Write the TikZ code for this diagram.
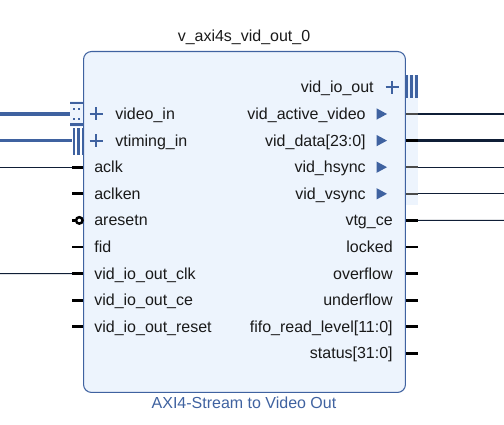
\documentclass[tikz,border=0pt]{standalone}
\usepackage{fontspec}
\setmainfont{Liberation Sans}
\usetikzlibrary{positioning}
\definecolor{ipblue}{HTML}{3F62A0}
\definecolor{ipfill}{HTML}{EDF4FD}
\definecolor{wirec}{HTML}{0F1E36}
\definecolor{txt}{HTML}{1A1A1A}
\begin{document}
\begin{tikzpicture}[x=0.02cm,y=-0.02cm,
  every node/.style={font=\fontsize{9.1}{11}\selectfont,inner sep=0pt,text=txt},
  pinl/.style={anchor=base west},
  pinr/.style={anchor=base east},
  stub/.style={line width=1.5pt,black},
  substub/.style={line width=1.1pt,black!70},
  wire/.style={line width=0.6pt,wirec},
  buswire/.style={line width=2pt,ipblue},
  plus/.style={line width=1.2pt,ipblue},
  bar/.style={fill=ipblue,draw=none}]
  \useasboundingbox (0,0) rectangle (504,425);
  % block
  \fill[ipfill] (406,75) rectangle (418,205);
  \node[draw=ipblue,fill=ipfill,line width=0.6pt,rounded corners=0.16cm,
        minimum width=6.44cm,minimum height=6.82cm,anchor=north west] (ip) at (83,51) {};
  \node[anchor=base] (ipname) at (244,42) {v\_axi4s\_vid\_out\_0};
  \node[anchor=base,text=ipblue] (iptype) at (244,409) {AXI4-Stream to Video Out};
  % bus interfaces, left
  \fill[ipfill] (70,101) rectangle (83,127);
  \coordinate (vin-w) at (0,114);
  \coordinate (vin-pin) at (70,114);
  \draw[buswire] (vin-w) -- (vin-pin);
  \fill[bar] (70,102) rectangle (83,104.5);
  \fill[bar] (70,123.5) rectangle (83,126);
  \foreach \sx in {73.3,77.8} \foreach \sy in {108,118} \fill[bar] (\sx,\sy) rectangle ++(1.8,2);
  \draw[plus] (89.5,114) -- (102.5,114) (96,107.5) -- (96,120.5);
  \node[pinl] (video_in) at (115,119.5) {video\_in};
  \coordinate (vtm-w) at (0,140.6);
  \coordinate (vtm-pin) at (72,140.6);
  \draw[buswire] (vtm-w) -- (vtm-pin);
  \foreach \sx in {72.8,77.3,81.6} \fill[bar] (\sx,128) rectangle ++(2.2,27);
  \draw[plus] (89.5,140.6) -- (102.5,140.6) (96,134.1) -- (96,147.1);
  \node[pinl] (vtiming_in) at (115,146.1) {vtiming\_in};
  % single pins, left
  \foreach \name/\lbl/\row in {aclk/aclk/2,aclken/aclken/3,fid/fid/5,
      ioclk/vid\_io\_out\_clk/6,ioce/vid\_io\_out\_ce/7,iorst/vid\_io\_out\_reset/8} {
    \coordinate (\name-pin) at (72,114+26.6*\row);
    \coordinate (\name-edge) at (83,114+26.6*\row);
    \draw[stub] (\name-pin) -- (\name-edge);
    \node[pinl] (\name) at (94,119.5+26.6*\row) {\lbl};
  }
  \coordinate (rst-pin) at (72,220.4);
  \node[circle,draw=black,fill=white,line width=1.4pt,minimum size=0.13cm] (rst-dot) at (79.3,220.4) {};
  \draw[stub] (rst-pin) -- (rst-dot);
  \node[pinl] (aresetn) at (94,225.9) {aresetn};
  \coordinate (aclk-w) at (0,167.2);
  \draw[wire] (aclk-w) -- (aclk-pin);
  \coordinate (ioclk-w) at (0,273.6);
  \draw[wire] (ioclk-w) -- (ioclk-pin);
  % vid_io_out interface, right
  \foreach \sx in {405.8,410.2,415} \fill[bar] (\sx,75) rectangle ++(2.6,23);
  \draw[plus] (385.5,87.4) -- (398.5,87.4) (392,80.9) -- (392,93.9);
  \node[pinr] (vid_io_out) at (374,92.9) {vid\_io\_out};
  \foreach \name/\lbl/\row in {active/vid\_active\_video/0,data/vid\_data[23:0]/1,
      hsync/vid\_hsync/2,vsync/vid\_vsync/3} {
    \coordinate (\name-edge) at (406,114+26.6*\row);
    \coordinate (\name-pin) at (418,114+26.6*\row);
    \coordinate (\name-e) at (504,114+26.6*\row);
    \fill[ipblue] (376.5,108.3+26.6*\row) -- (387,114+26.6*\row) -- (376.5,119.7+26.6*\row) -- cycle;
    \node[pinr] (\name) at (366,119.5+26.6*\row) {\lbl};
  }
  \foreach \name in {active,hsync,vsync} {
    \draw[substub] (\name-edge) -- (\name-pin);
    \draw[wire] (\name-pin) -- (\name-e);
  }
  \draw[stub] (data-edge) -- (data-pin);
  \draw[wire,line width=1.3pt] (data-pin) -- (data-e);
  % single pins, right
  \foreach \name/\lbl/\row in {vtgce/vtg\_ce/4,locked/locked/5,overflow/overflow/6,
      underflow/underflow/7,fifo/fifo\_read\_level[11:0]/8,status/status[31:0]/9} {
    \coordinate (\name-edge) at (406,114+26.6*\row);
    \coordinate (\name-pin) at (418,114+26.6*\row);
    \draw[stub] (\name-edge) -- (\name-pin);
    \node[pinr] (\name) at (393,119.5+26.6*\row) {\lbl};
  }
  \coordinate (vtgce-e) at (504,220.4);
  \draw[wire] (vtgce-pin) -- (vtgce-e);
\end{tikzpicture}
\end{document}
